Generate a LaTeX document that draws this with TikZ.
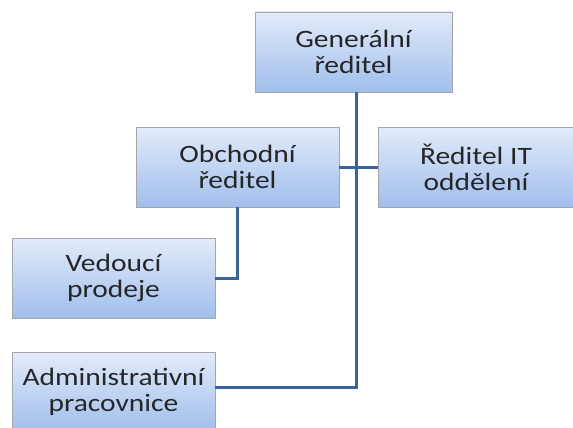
\documentclass[tikz,border=0pt]{standalone}
\usepackage{fontspec}
\setmainfont{Carlito}[FakeStretch=1.18]
\begin{document}
\begin{tikzpicture}[x=1pt,y=-1pt,
  orgbox/.style={draw=gray!70, line width=0.8pt, top color={rgb,255:red,226;green,235;blue,250}, bottom color={rgb,255:red,160;green,190;blue,236},
    minimum width=203pt, minimum height=80pt, align=center, font=\fontsize{25}{26}\selectfont, text=black!85, inner sep=0pt},
  conn/.style={draw={rgb,255:red,58;green,100;blue,160}, line width=3pt}]
\useasboundingbox (0,0) rectangle (573,428);
\clip (0,0) rectangle (573,428);
\node[orgbox, minimum width=197pt] (gen) at (353.5,52) {Generální\\ředitel};
\node[orgbox] (obch) at (237.5,167) {Obchodní\\ředitel};
\node[orgbox, minimum width=196pt] (it) at (476,167) {Ředitel IT\\oddělení};
\node[orgbox] (ved) at (113.5,278) {Vedoucí\\prodeje};
\node[orgbox] (adm) at (113.5,392) {Administrativní\\pracovnice};
\coordinate (trunkend) at (356,387);
\draw[conn] (gen.south -| trunkend) -- (trunkend) -- (adm.east |- trunkend);
\draw[conn] (obch.east) -- (it.west);
\draw[conn] (obch.south) |- (ved.east);
\end{tikzpicture}
\end{document}
